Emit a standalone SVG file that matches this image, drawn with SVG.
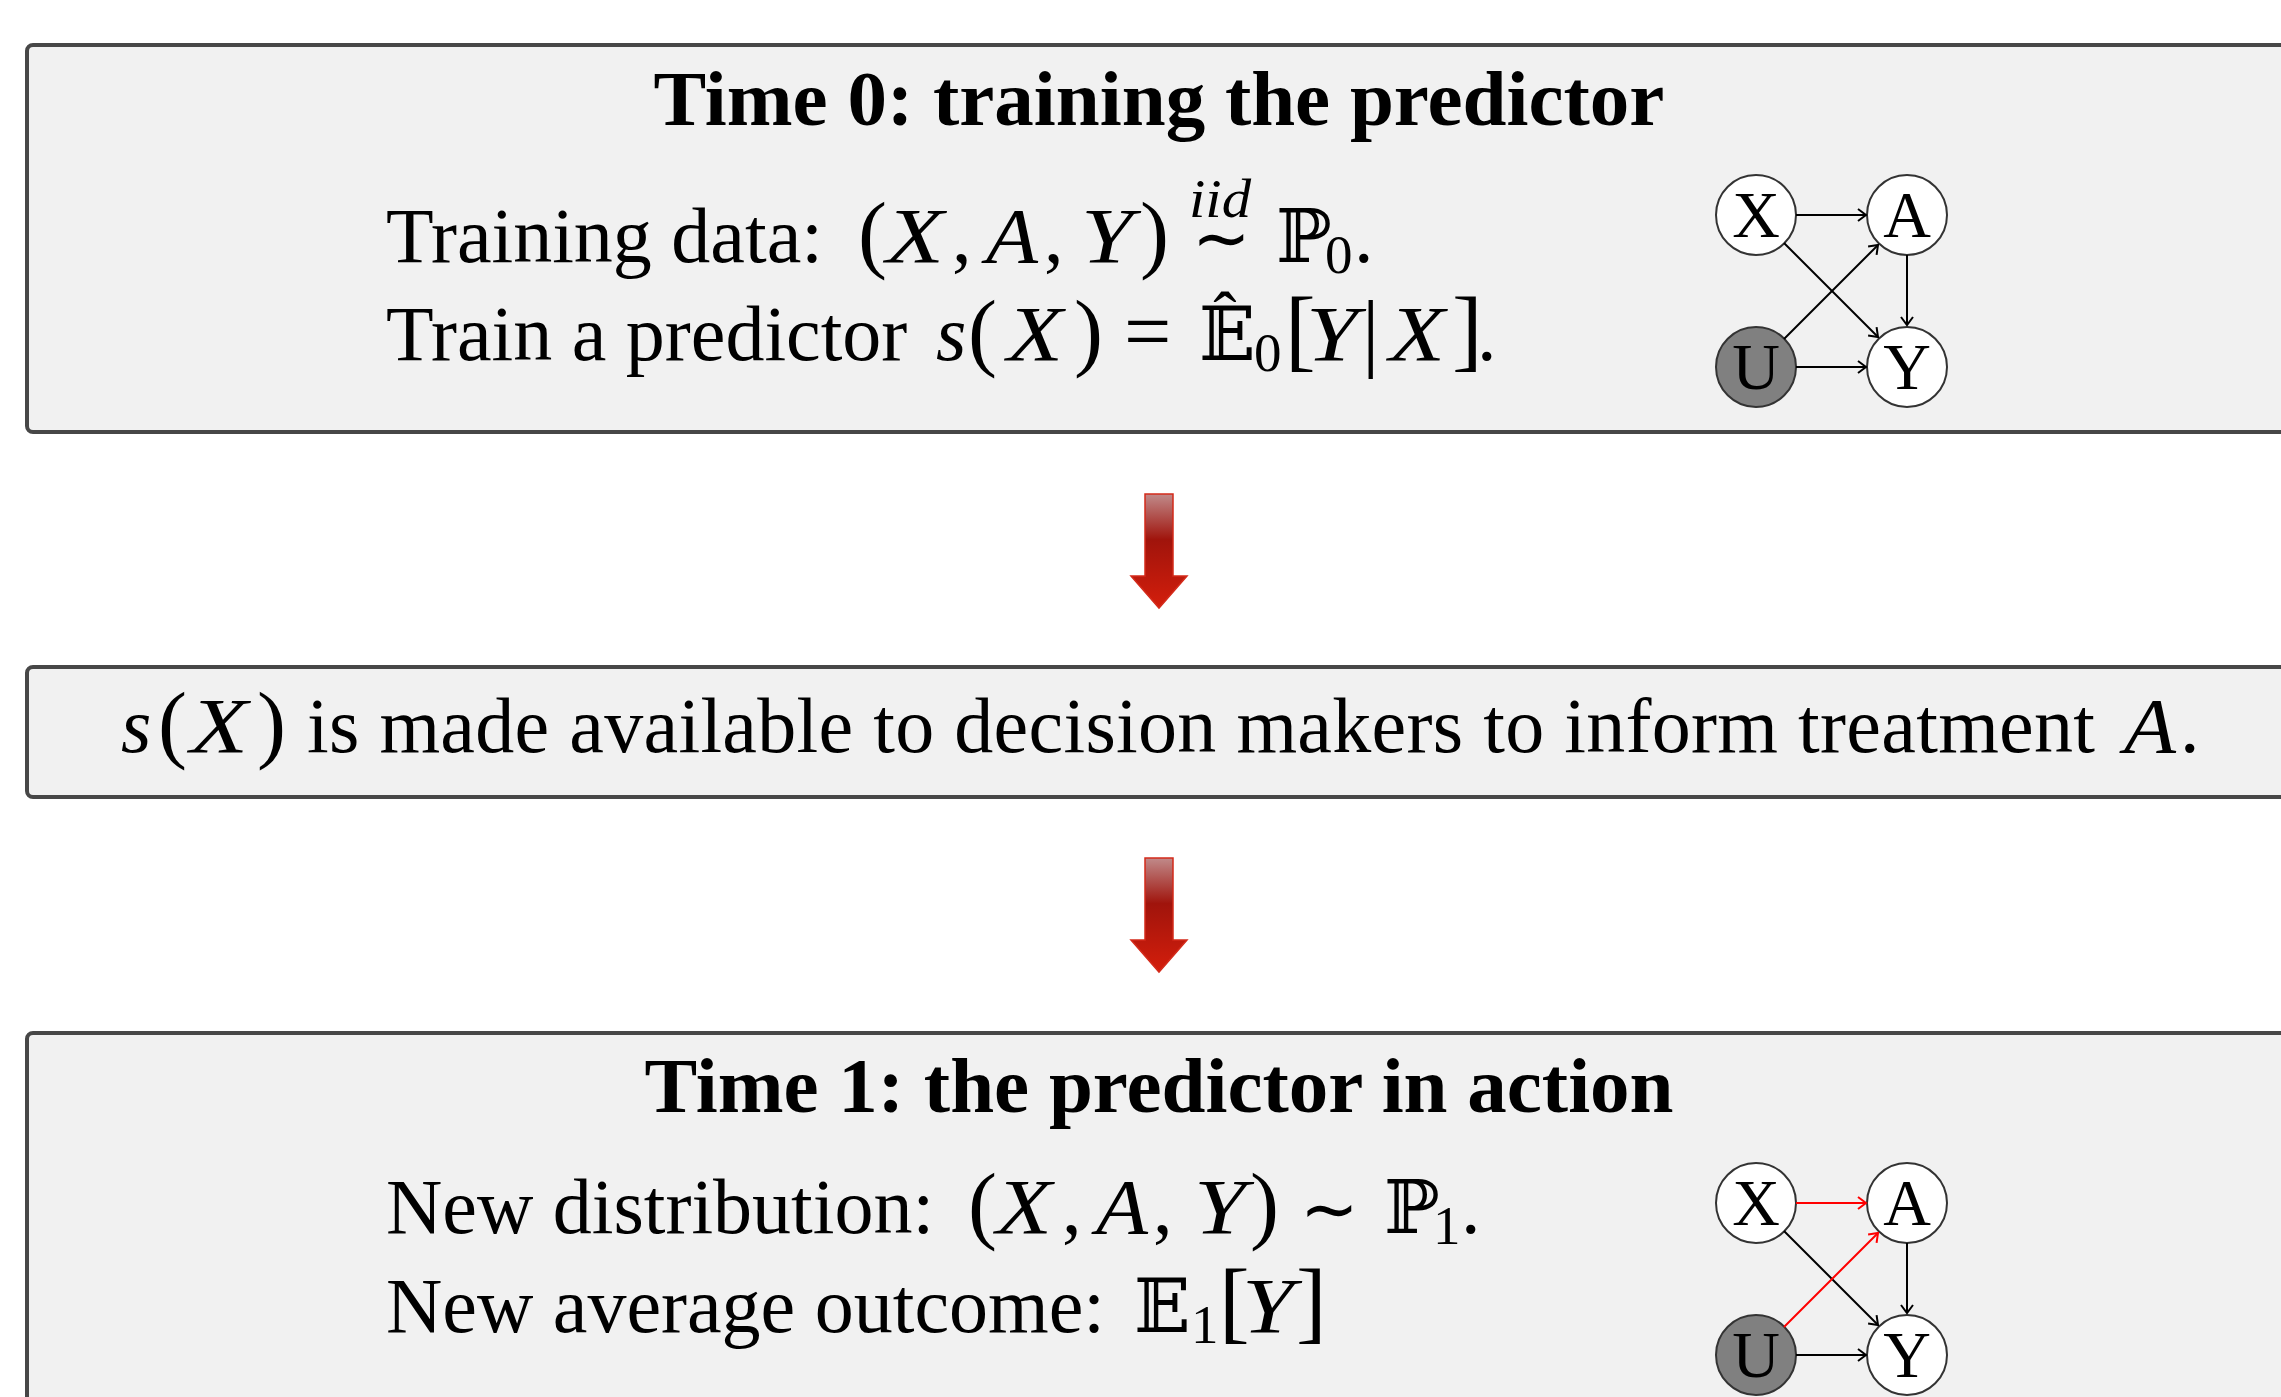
<svg xmlns="http://www.w3.org/2000/svg" width="2281" height="1397" viewBox="0 0 2281 1397">
<defs>
<style>
.box{fill:#f1f1f1;stroke:#474747;stroke-width:4}
.t{font-family:"Liberation Serif","Times New Roman",serif;font-size:78px;fill:#000}
.b{font-family:"Liberation Serif","Times New Roman",serif;font-size:79px;font-weight:bold;fill:#000}
.i{font-family:"Liberation Serif","Times New Roman",serif;font-size:78px;font-style:italic;fill:#000}
.sup{font-family:"Liberation Serif","Times New Roman",serif;font-size:54px;font-style:italic;fill:#000}
.eq{font-family:"Liberation Serif","Times New Roman",serif;font-size:84px;fill:#000}
.hat{font-family:"Liberation Serif","Times New Roman",serif;font-size:70px;fill:#000}
.p{font-family:"Liberation Serif","Times New Roman",serif;font-size:87px;fill:#000}
.bk{font-family:"Liberation Serif","Times New Roman",serif;font-size:92px;fill:#000}
.s{font-family:"Liberation Serif","Times New Roman",serif;font-size:55px;fill:#000}
.bb{font-family:"DejaVu Serif","DejaVu Sans",serif;font-size:74px;fill:#000}
.sim{font-family:"DejaVu Sans","DejaVu Serif",sans-serif;font-size:70px;fill:#000}
.node{fill:#fff;stroke:#333;stroke-width:2}
.hid{fill:#808080;stroke:#333;stroke-width:2}
.nl{font-family:"Liberation Serif","Times New Roman",serif;font-size:66px;fill:#000;text-anchor:middle}
.e{stroke:#000;stroke-width:2;fill:none;marker-end:url(#ah)}
.er{stroke:#ff0000;stroke-width:2;fill:none;marker-end:url(#ahr)}
.arr{fill:url(#ag);stroke:#d42a1a;stroke-width:1.5}
</style>
<linearGradient id="ag" x1="0" y1="0" x2="0" y2="1">
<stop offset="0" stop-color="#c08a8a"/>
<stop offset="0.4" stop-color="#a0140c"/>
<stop offset="1" stop-color="#d41e0c"/>
</linearGradient>
<marker id="ah" markerUnits="userSpaceOnUse" markerWidth="16" markerHeight="16" viewBox="-10 -8 12 16" refX="0" refY="0" orient="auto">
<path d="M-8,-6 L0,0 L-8,6" fill="none" stroke="#000" stroke-width="2"/>
</marker>
<marker id="ahr" markerUnits="userSpaceOnUse" markerWidth="16" markerHeight="16" viewBox="-10 -8 12 16" refX="0" refY="0" orient="auto">
<path d="M-8,-6 L0,0 L-8,6" fill="none" stroke="#ff0000" stroke-width="2"/>
</marker>
</defs>
<rect width="2281" height="1397" fill="#fff"/>

<g id="box-time0">
<rect class="box" x="27" y="45" width="2300" height="387" rx="6"/>
<text class="b" x="1159" y="125" text-anchor="middle">Time 0: training the predictor</text>
<text class="t" x="386" y="262">Training data:</text>
<text class="p" x="858" y="262">(</text>
<text class="i" x="886" y="262" textLength="58" lengthAdjust="spacingAndGlyphs">X</text>
<text class="t" x="952" y="262">,</text>
<text class="i" x="986" y="262" textLength="52" lengthAdjust="spacingAndGlyphs">A</text>
<text class="t" x="1044" y="262">,</text>
<text class="i" x="1081" y="262" textLength="52" lengthAdjust="spacingAndGlyphs">Y</text>
<text class="p" x="1140" y="262">)</text>
<text class="sup" x="1189" y="217" textLength="62" lengthAdjust="spacingAndGlyphs">iid</text>
<text class="sim" x="1192" y="262">∼</text>
<text class="bb" x="1276" y="262">ℙ</text>
<text class="s" x="1325" y="273">0</text>
<text class="t" x="1354" y="262">.</text>
<text class="t" x="386" y="360">Train a predictor</text>
<text class="i" x="936" y="360">s</text>
<text class="p" x="968" y="360">(</text>
<text class="i" x="1007" y="360" textLength="56" lengthAdjust="spacingAndGlyphs">X</text>
<text class="p" x="1074" y="360">)</text>
<text class="eq" x="1124" y="360">=</text>
<text class="bb" x="1199" y="360">𝔼</text>
<text class="hat" x="1225" y="340" text-anchor="middle">ˆ</text>
<text class="s" x="1254" y="371">0</text>
<text class="bk" x="1285" y="360">[</text>
<text class="i" x="1306" y="360" textLength="52" lengthAdjust="spacingAndGlyphs">Y</text>
<text class="p" x="1362" y="360">|</text>
<text class="i" x="1389" y="360" textLength="56" lengthAdjust="spacingAndGlyphs">X</text>
<text class="bk" x="1452" y="360">]</text>
<text class="t" x="1477" y="360">.</text>
</g>

<g id="dag0">
<g id="dag0-x"><circle class="node" cx="1756" cy="215" r="40"/><text class="nl" x="1756" y="237">X</text></g>
<g id="dag0-a"><circle class="node" cx="1907" cy="215" r="40"/><text class="nl" x="1907" y="237">A</text></g>
<g id="dag0-u"><circle class="hid" cx="1756" cy="367" r="40"/><text class="nl" x="1756" y="389">U</text></g>
<g id="dag0-y"><circle class="node" cx="1907" cy="367" r="40"/><text class="nl" x="1907" y="389">Y</text></g>
<g id="dag0-edges">
<line class="e" x1="1796" y1="215" x2="1866" y2="215"/>
<line class="e" x1="1907" y1="255" x2="1907" y2="325"/>
<line class="e" x1="1784" y1="243" x2="1878" y2="337"/>
<line class="e" x1="1784" y1="339" x2="1878" y2="245"/>
<line class="e" x1="1796" y1="367" x2="1866" y2="367"/>
</g>
</g>

<g id="flow-arrows">
<path class="arr" d="M1145,494 H1173 V576 H1187 L1159,608 L1131,576 H1145 Z"/>
<path class="arr" d="M1145,858 H1173 V940 H1187 L1159,972 L1131,940 H1145 Z"/>
</g>

<g id="box-deploy">
<rect class="box" x="27" y="667" width="2300" height="130" rx="6"/>
<text class="i" x="121" y="752">s</text>
<text class="p" x="158" y="752">(</text>
<text class="i" x="190" y="752" textLength="58" lengthAdjust="spacingAndGlyphs">X</text>
<text class="p" x="257" y="752">)</text>
<text class="t" x="307" y="752" textLength="1788" lengthAdjust="spacing">is made available to decision makers to inform treatment</text>
<text class="i" x="2124" y="752" textLength="52" lengthAdjust="spacingAndGlyphs">A</text>
<text class="t" x="2180" y="752">.</text>
</g>

<g id="box-time1">
<rect class="box" x="27" y="1033" width="2300" height="420" rx="6"/>
<text class="b" x="1159" y="1112" text-anchor="middle">Time 1: the predictor in action</text>
<text class="t" x="386" y="1233">New distribution:</text>
<text class="p" x="968" y="1233">(</text>
<text class="i" x="996" y="1233" textLength="56" lengthAdjust="spacingAndGlyphs">X</text>
<text class="t" x="1062" y="1233">,</text>
<text class="i" x="1096" y="1233" textLength="52" lengthAdjust="spacingAndGlyphs">A</text>
<text class="t" x="1153" y="1233">,</text>
<text class="i" x="1194" y="1233" textLength="52" lengthAdjust="spacingAndGlyphs">Y</text>
<text class="p" x="1250" y="1233">)</text>
<text class="sim" x="1300" y="1233">∼</text>
<text class="bb" x="1384" y="1233">ℙ</text>
<text class="s" x="1433" y="1244">1</text>
<text class="t" x="1461" y="1233">.</text>
<text class="t" x="386" y="1332">New average outcome:</text>
<text class="bb" x="1134" y="1332">𝔼</text>
<text class="s" x="1191" y="1343">1</text>
<text class="bk" x="1219" y="1332">[</text>
<text class="i" x="1242" y="1332" textLength="52" lengthAdjust="spacingAndGlyphs">Y</text>
<text class="bk" x="1296" y="1332">]</text>
</g>

<g id="dag1">
<g id="dag1-x"><circle class="node" cx="1756" cy="1203" r="40"/><text class="nl" x="1756" y="1225">X</text></g>
<g id="dag1-a"><circle class="node" cx="1907" cy="1203" r="40"/><text class="nl" x="1907" y="1225">A</text></g>
<g id="dag1-u"><circle class="hid" cx="1756" cy="1355" r="40"/><text class="nl" x="1756" y="1377">U</text></g>
<g id="dag1-y"><circle class="node" cx="1907" cy="1355" r="40"/><text class="nl" x="1907" y="1377">Y</text></g>
<g id="dag1-edges">
<line class="er" x1="1796" y1="1203" x2="1866" y2="1203"/>
<line class="e" x1="1907" y1="1243" x2="1907" y2="1313"/>
<line class="e" x1="1784" y1="1231" x2="1878" y2="1325"/>
<line class="er" x1="1784" y1="1327" x2="1878" y2="1233"/>
<line class="e" x1="1796" y1="1355" x2="1866" y2="1355"/>
</g>
</g>
</svg>
